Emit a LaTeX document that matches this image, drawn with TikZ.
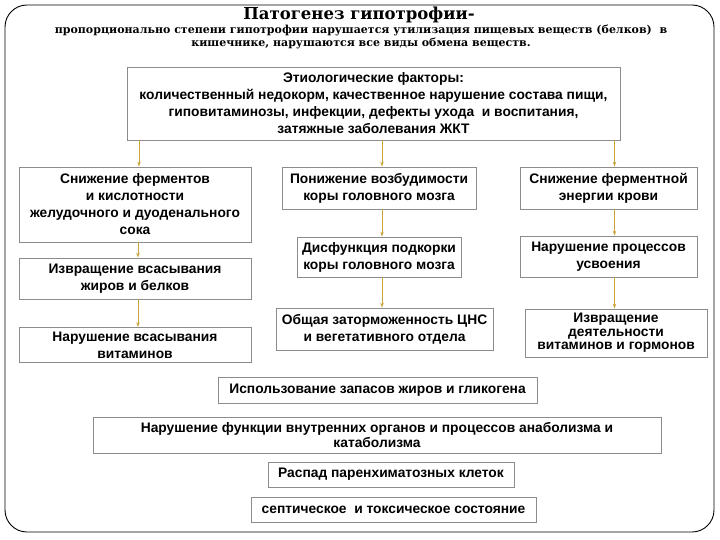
\documentclass[tikz,border=0pt]{standalone}
\usepackage{fontspec}
\setmainfont{Liberation Sans}
\newfontfamily\titlefont{DejaVu Serif}
\usetikzlibrary{arrows.meta,calc}
\definecolor{boxgray}{HTML}{8C8C8C}
\definecolor{arrgold}{HTML}{C9A43A}
\begin{document}
\begin{tikzpicture}[x=1pt,y=-1pt,
  box/.style={draw=boxgray, line width=0.8pt, fill=white, align=center,
    font=\bfseries\fontsize{13.8}{17}\selectfont, inner sep=0pt},
  arr/.style={draw=arrgold, line width=0.7pt, -{Stealth[length=5pt,width=3.5pt]}},
  frame/.style={draw=black, line width=0.9pt, rounded corners=22pt}]
\useasboundingbox (0,0) rectangle (720,540);
\draw[frame] (5,5) rectangle (714,532);
\node[font=\titlefont\bfseries\fontsize{16.5}{17}\selectfont] (title) at (359,15) {Патогенез гипотрофии-};
\node[font=\titlefont\bfseries\fontsize{11}{13.5}\selectfont, align=center] (sub) at (361,37)
  {пропорционально степени гипотрофии нарушается утилизация пищевых веществ (белков) \ в\\кишечнике, нарушаются все виды обмена веществ.};

\node[box, minimum width=493pt, minimum height=73pt] (etio) at (373.5,103.5)
  {Этиологические факторы:\\количественный недокорм, качественное нарушение состава пищи,\\гиповитаминозы, инфекции, дефекты ухода \ и воспитания,\\затяжные заболевания ЖКТ};

\node[box, minimum width=232pt, minimum height=75pt] (l1) at (135,204.5)
  {Снижение ферментов\\и кислотности\\желудочного и дуоденального\\сока};
\node[box, minimum width=232pt, minimum height=41pt] (l2) at (135,278.5)
  {Извращение всасывания\\жиров и белков};
\node[box, minimum width=232pt, minimum height=35pt] (l3) at (135,345)
  {Нарушение всасывания\\витаминов};

\node[box, minimum width=194pt, minimum height=42pt] (m1) at (379,188)
  {Понижение возбудимости\\коры головного мозга};
\node[box, minimum width=164pt, minimum height=40pt] (m2) at (379,257)
  {Дисфункция подкорки\\коры головного мозга};
\node[box, minimum width=217pt, minimum height=42pt] (m3) at (384.5,329)
  {Общая заторможенность ЦНС\\и вегетативного отдела};

\node[box, minimum width=177pt, minimum height=42pt] (r1) at (608.5,188)
  {Снижение ферментной\\энергии крови};
\node[box, minimum width=177pt, minimum height=41pt] (r2) at (608.5,256.5)
  {Нарушение процессов\\усвоения};
\node[box, minimum width=182pt, minimum height=48pt, font=\bfseries\fontsize{13.8}{13.5}\selectfont] (r3) at (616,333)
  {Извращение\\деятельности\\витаминов и гормонов};

\node[box, minimum width=319pt, minimum height=26pt] (a) at (377.5,390)
  {Использование запасов жиров и гликогена};
\node[box, minimum width=568pt, minimum height=36pt, font=\bfseries\fontsize{13.8}{15}\selectfont] (b) at (377,435)
  {Нарушение функции внутренних органов и процессов анаболизма и\\катаболизма};
\node[box, minimum width=246pt, minimum height=25pt] (c) at (391,474.5)
  {Распад паренхиматозных клеток};
\node[box, minimum width=285pt, minimum height=25pt] (d) at (393.5,509.5)
  {септическое \ и токсическое состояние};

\draw[arr] ($(etio.south -| l1.north)+(4,0)$) -- ($(l1.north)+(4,0)$);
\draw[arr] ($(etio.south -| m1.north)+(3,0)$) -- ($(m1.north)+(3,0)$);
\draw[arr] ($(etio.south -| r1.north)+(6,0)$) -- ($(r1.north)+(6,0)$);
\draw[arr] ($(l1.south)+(3,0)$) -- ($(l2.north)+(3,0)$);
\draw[arr] ($(l2.south)+(3,0)$) -- ($(l3.north)+(3,0)$);
\draw[arr] ($(m1.south)+(3,0)$) -- ($(m2.north)+(3,0)$);
\draw[arr] ($(m2.south)+(3,0)$) -- ($(m2.south |- m3.north)+(3,0)$);
\draw[arr] ($(r1.south)+(6,0)$) -- ($(r2.north)+(6,0)$);
\draw[arr] ($(r2.south)+(6,0)$) -- ($(r2.south |- r3.north)+(6,0)$);
\end{tikzpicture}
\end{document}
